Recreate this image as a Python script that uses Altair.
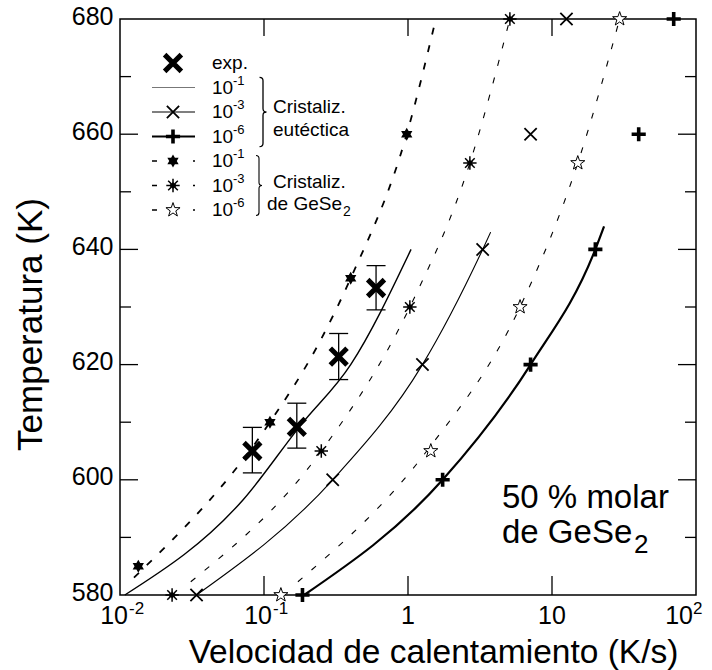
import altair as alt
import pandas as pd

# ---------------- data ----------------
exp_rate = [0.083, 0.169, 0.33, 0.60]
exp_temp = [605.0, 609.2, 621.4, 633.3]
exp_low = [601.2, 605.5, 617.4, 629.5]
exp_high = [609.1, 613.3, 625.4, 637.2]

# eutectic crystallization (solid curves)
eu1_curve_rate = [0.0108, 0.0714, 0.18, 0.40, 1.05]
eu1_curve_temp = [580, 596.5, 609.5, 620, 640]

eu3_rate = [0.034, 0.30, 1.26, 3.3, 7.1, 12.6]
eu3_temp = [580, 600, 620, 640, 660, 680]
eu3_curve_rate = [0.034, 0.30, 1.26, 3.3, 3.75]
eu3_curve_temp = [580, 600, 620, 640, 643]

eu6_rate = [0.185, 1.74, 7.1, 20.0, 40.0, 70.0]
eu6_temp = [580, 600, 620, 640, 660, 680]
eu6_curve_rate = [0.19, 1.74, 7.1, 20.0, 23.0]
eu6_curve_temp = [580, 600, 620, 640, 644]

# GeSe2 crystallization (dashed curves)
ge1_rate = [0.0134, 0.11, 0.40, 0.98]
ge1_temp = [585, 610, 635, 660]
ge1_curve_rate = [0.0125, 0.11, 0.237, 0.40, 0.98, 1.56]
ge1_curve_temp = [583, 610, 623.4, 635, 660, 680]

ge3_rate = [0.023, 0.25, 1.03, 2.69, 5.1]
ge3_temp = [580, 605, 630, 655, 680]
ge3_curve_rate = [0.031, 0.25, 1.03, 2.69, 5.1]
ge3_curve_temp = [582.3, 605, 630, 655, 680]

ge6_rate = [0.131, 1.44, 6.0, 15.1, 29.5]
ge6_temp = [580, 605, 630, 655, 680]
ge6_curve_rate = [0.172, 1.35, 6.0, 15.1, 29.5]
ge6_curve_temp = [582.3, 605, 630, 655, 680]

y_ticks = [580, 600, 620, 640, 660, 680]
y_major_inner = [600, 620, 640, 660]
y_minor = [590, 610, 630, 650, 670]
x_ticks = [0.01, 0.1, 1, 10, 100]
x_major_inner = [0.1, 1, 10]
x_tick_base = ["10", "10", "1", "10", "10"]
x_tick_exp = ["-2", "-1", "", "", "2"]

legend_exps = ["-1", "-3", "-6", "-1", "-3", "-6"]

FONT = "Liberation Sans"
W, H = 576, 576

# ---------------- shapes ----------------
X_THICK = "M-1,-1L1,1M-1,1L1,-1"
PLUS = "M-1,0L1,0M0,-1L0,1"
HEXA = "M0,-1L0.866,0.5L-0.866,0.5ZM0,1L-0.866,-0.5L0.866,-0.5Z"
AST = "M-1,0L1,0M0,-1L0,1M-0.72,-0.72L0.72,0.72M-0.72,0.72L0.72,-0.72"
STAR5 = ("M0,-1L0.235,-0.324L0.951,-0.309L0.38,0.124L0.588,0.809L0,0.4"
         "L-0.588,0.809L-0.38,0.124L-0.951,-0.309L-0.235,-0.324Z")
BRACE = "M-0.1,-1Q0,-1 0,-0.9L0,-0.1Q0,0 0.1,0Q0,0 0,0.1L0,0.9Q0,1 -0.1,1"

xs = alt.Scale(type="log", domain=[0.01, 100])
ys = alt.Scale(domain=[580, 680])

XA = alt.Axis(labels=False, ticks=False, domain=False, grid=False,
              title="Velocidad de calentamiento (K/s)", titleFontSize=33.5,
              titleFontWeight="normal", titleBaseline="alphabetic",
              titleAlign="center", titleX=313, titleY=67)
YA = alt.Axis(values=y_ticks, labelFontSize=25, labelPadding=7, labelOffset=-3, ticks=False,
              domain=False, grid=False, title="Temperatura (K)", titleFontSize=35,
              titleFontWeight="normal", titleAngle=270, titleBaseline="alphabetic",
              titleAlign="center", titleX=-79, titleY=305)


def X(field="rate"):
    return alt.X(f"{field}:Q", scale=xs, axis=XA, title="Velocidad de calentamiento (K/s)")


def Y(field="temp"):
    return alt.Y(f"{field}:Q", scale=ys, axis=YA, title="Temperatura (K)")


def df(rate, temp):
    return pd.DataFrame({"rate": rate, "temp": temp})


def enc(chart):
    return chart.encode(x=X(), y=Y())


MARKERS = {
    "exp": [dict(shape=X_THICK, filled=False, size=280, strokeWidth=5, color="black")],
    "eu3": [dict(shape=X_THICK, filled=False, size=150, strokeWidth=1.8, color="black")],
    "eu6": [dict(shape=PLUS, filled=False, size=200, strokeWidth=3.6, color="black")],
    "ge1": [dict(shape=HEXA, filled=True, size=170, color="black")],
    "ge3": [dict(shape=AST, filled=False, size=180, strokeWidth=1.5, color="black"),
            dict(shape=HEXA, filled=True, size=55, color="black")],
    "ge6": [dict(shape=STAR5, filled=True, size=220, fill="white", stroke="black", strokeWidth=1)],
}

LINES = {
    "eu1": dict(color="black", strokeWidth=1.4),
    "eu3": dict(color="black", strokeWidth=1.1),
    "eu6": dict(color="black", strokeWidth=2.2),
    "ge1": dict(color="black", strokeWidth=1.8, strokeDash=[7, 11]),
    "ge3": dict(color="black", strokeWidth=1.1, strokeDash=[6, 12]),
    "ge6": dict(color="black", strokeWidth=1.1, strokeDash=[6, 12]),
}

layers = []

# ---------------- inner ticks ----------------
tick_style = dict(color="black", strokeWidth=1.3)
yt = pd.DataFrame({"temp": y_major_inner})
ym = pd.DataFrame({"temp": y_minor})
xt = pd.DataFrame({"rate": x_major_inner})
for d, a, b in [(yt, 0, 18), (ym, 0, 11), (yt, W - 18, W), (ym, W - 11, W)]:
    layers.append(alt.Chart(d).mark_rule(**tick_style).encode(
        y=Y(), x=alt.value(a), x2=alt.value(b)))
for a, b in [(H, H - 19), (0, 17)]:
    layers.append(alt.Chart(xt).mark_rule(**tick_style).encode(
        x=X(), y=alt.value(a), y2=alt.value(b)))

# ---------------- curves ----------------
curves = [
    ("eu1", eu1_curve_rate, eu1_curve_temp),
    ("eu3", eu3_curve_rate, eu3_curve_temp),
    ("eu6", eu6_curve_rate, eu6_curve_temp),
    ("ge1", ge1_curve_rate, ge1_curve_temp),
    ("ge3", ge3_curve_rate, ge3_curve_temp),
    ("ge6", ge6_curve_rate, ge6_curve_temp),
]
for key, r, t in curves:
    layers.append(enc(alt.Chart(df(r, t)).mark_line(interpolate="monotone", **LINES[key])))

# ---------------- error bars ----------------
exp_df = pd.DataFrame({"rate": exp_rate, "temp": exp_temp, "low": exp_low, "high": exp_high})
layers.append(alt.Chart(exp_df).mark_rule(color="black", strokeWidth=1.3).encode(
    x=X(), y=Y("low"), y2="high:Q"))
for col in ["low", "high"]:
    layers.append(alt.Chart(exp_df).mark_tick(orient="horizontal", size=19, thickness=1.3,
                                              color="black", opacity=1).encode(
        x=X(), y=Y(col)))

# ---------------- markers ----------------
point_sets = [
    ("eu3", eu3_rate, eu3_temp),
    ("eu6", eu6_rate, eu6_temp),
    ("ge1", ge1_rate, ge1_temp),
    ("ge3", ge3_rate, ge3_temp),
    ("ge6", ge6_rate, ge6_temp),
]
for key, r, t in point_sets:
    for m in MARKERS[key]:
        layers.append(enc(alt.Chart(df(r, t)).mark_point(opacity=1, **m)))

for m in MARKERS["exp"]:
    layers.append(alt.Chart(exp_df).mark_point(opacity=1, **m).encode(x=X(), y=Y()))

# ---------------- x tick labels (with exponents) ----------------
xl = pd.DataFrame({"rate": x_ticks, "base": x_tick_base, "exp": x_tick_exp})
neg = xl[xl["exp"].str.startswith("-")]
plain = xl[xl["exp"] == ""]
pos = xl[(xl["exp"] != "") & (~xl["exp"].str.startswith("-"))]
txt = dict(font=FONT, color="black")
XB = H + 29
layers.append(alt.Chart(neg).mark_text(align="right", baseline="alphabetic", fontSize=25, dx=8, **txt).encode(
    x=X(), y=alt.value(XB), text="base:N"))
layers.append(alt.Chart(neg).mark_text(align="left", baseline="alphabetic", fontSize=17, dx=9, **txt).encode(
    x=X(), y=alt.value(XB - 10), text="exp:N"))
layers.append(alt.Chart(plain).mark_text(align="center", baseline="alphabetic", fontSize=25, **txt).encode(
    x=X(), y=alt.value(XB), text="base:N"))
layers.append(alt.Chart(pos).mark_text(align="right", baseline="alphabetic", fontSize=25, dx=-3, **txt).encode(
    x=X(), y=alt.value(XB), text="base:N"))
layers.append(alt.Chart(pos).mark_text(align="left", baseline="alphabetic", fontSize=17, dx=-3, **txt).encode(
    x=X(), y=alt.value(XB - 10), text="exp:N"))

# ---------------- legend ----------------
one = pd.DataFrame({"k": [0]})
LX_MARK, LX0, LX1, LX_TXT = 53, 32, 75, 92
LY0, LDY = 44, 24.5


def ly(i):
    return LY0 + i * LDY


for m in MARKERS["exp"]:
    layers.append(alt.Chart(one).mark_point(opacity=1, **m).encode(x=alt.value(LX_MARK), y=alt.value(ly(0))))
layers.append(alt.Chart(one).mark_text(align="left", baseline="middle", fontSize=19, **txt).encode(
    x=alt.value(LX_TXT), y=alt.value(ly(0)), text=alt.value("exp.")))

leg_keys = ["eu1", "eu3", "eu6", "ge1", "ge3", "ge6"]
for i, key in enumerate(leg_keys, start=1):
    style = dict(LINES[key])
    if key == "eu1":
        style = dict(color="#777777", strokeWidth=1.0)
    if "strokeDash" in style:
        style["strokeDash"] = [5, 36]
        style["strokeWidth"] = 1.3
    layers.append(alt.Chart(one).mark_rule(**style).encode(
        x=alt.value(LX0), x2=alt.value(LX1), y=alt.value(ly(i))))
    for m in MARKERS.get(key, []):
        layers.append(alt.Chart(one).mark_point(opacity=1, **m).encode(
            x=alt.value(LX_MARK), y=alt.value(ly(i))))

leg_df = pd.DataFrame({"base": ["10"] * 6, "exp": legend_exps,
                       "ly": [ly(i) for i in range(1, 7)]})
layers.append(alt.Chart(leg_df).mark_text(align="left", baseline="middle", fontSize=19, **txt).encode(
    x=alt.value(LX_TXT), y=alt.Y("ly:Q", scale=None), text="base:N"))
layers.append(alt.Chart(leg_df).mark_text(align="left", baseline="middle", fontSize=13, dy=-7, **txt).encode(
    x=alt.value(LX_TXT + 21), y=alt.Y("ly:Q", scale=None), text="exp:N"))

# braces
layers.append(alt.Chart(one).mark_point(shape=BRACE, filled=False, size=4800, strokeWidth=1.3,
                                        color="black", opacity=1).encode(
    x=alt.value(143), y=alt.value((ly(1) + ly(3)) / 2)))
layers.append(alt.Chart(one).mark_point(shape=BRACE, filled=False, size=3600, strokeWidth=1.1,
                                        color="black", opacity=1).encode(
    x=alt.value(139), y=alt.value((ly(4) + ly(6)) / 2)))
brace_txt = [("Cristaliz.", 153, 88), ("eutéctica", 153, 111),
             ("Cristaliz.", 153, 163), ("de GeSe", 147, 185)]
for s, xx, yy in brace_txt:
    layers.append(alt.Chart(one).mark_text(align="left", baseline="middle", fontSize=19, **txt).encode(
        x=alt.value(xx), y=alt.value(yy), text=alt.value(s)))
layers.append(alt.Chart(one).mark_text(align="left", baseline="middle", fontSize=14, **txt).encode(
    x=alt.value(223), y=alt.value(193), text=alt.value("2")))

# annotation
for s, xx, yy, fs in [("50 % molar", 382, 479, 33), ("de GeSe", 382, 514, 33), ("2", 514, 526, 26)]:
    layers.append(alt.Chart(one).mark_text(align="left", baseline="middle", fontSize=fs, **txt).encode(
        x=alt.value(xx), y=alt.value(yy), text=alt.value(s)))

chart = alt.layer(*layers).properties(
    width=W, height=H,
    padding={"left": 120, "top": 19, "right": 16, "bottom": 75},
    autosize=alt.AutoSizeParams(type="none"),
).configure(background="white").configure_view(
    stroke="black", strokeWidth=1.5
).configure_axis(
    labelFont=FONT, titleFont=FONT, labelColor="black", titleColor="black",
    titleFontWeight="normal"
)

chart.save("out.html", embed_options={"renderer": "svg", "actions": False})
